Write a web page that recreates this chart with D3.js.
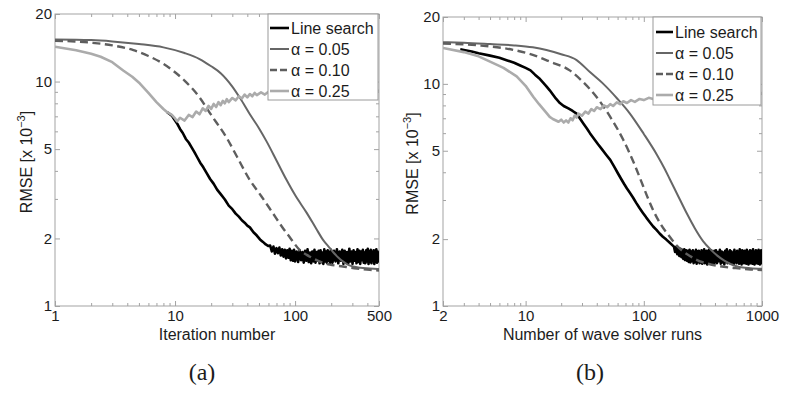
<!DOCTYPE html>
<html>
<head>
<meta charset="utf-8">
<script src="https://cdn.jsdelivr.net/npm/d3@7"></script>
<style>
  body { margin: 0; background: #fff; }
  svg { display: block; }
  text { font-family: "Liberation Sans", Arial, Helvetica, sans-serif; }
</style>
</head>
<body>
<svg id="chart" width="785" height="395"></svg>
<script>
// ---------- data ----------
const seriesNames = ["Line search", "α = 0.05", "α = 0.10", "α = 0.25"];
const yTickValues = [1, 2, 5, 10, 20];
const leftXTickValues = [1, 10, 100, 500];
const rightXTickValues = [2, 10, 100, 1000];
const leftXTitle = "Iteration number";
const rightXTitle = "Number of wave solver runs";
const panelCaptions = ["(a)", "(b)"];

// (a) RMSE [x 10^-3] against iteration number
const leftLineSearch = [
  [8.6,7.3],[9.4,7.05],[10,6.7],[10.5,6.45],[11,6.15],[11.6,5.9],[12.3,5.55],[13,5.35],[13.7,5.1],[14.5,4.85],
  [15.3,4.6],[16.2,4.35],[17.2,4.15],[18.4,3.9],[19.6,3.68],[21,3.5],[22.4,3.3],[24,3.15],[26,2.98],[28,2.8],
  [30,2.7],[32,2.58],[34,2.5],[36,2.41],[38,2.35],[40,2.28],[42,2.24],[45,2.13],[48,2.06],[51,1.98],
  [54,1.93],[57,1.88],[60,1.85],
  [62,1.86],[64,1.75],[66,1.84],[68,1.71],[70,1.81],[72,1.72],[74,1.82],[76,1.68],[78,1.79],[80,1.66],
  [82,1.78],[84,1.63],[86,1.77],[88,1.64],[90,1.80],[92,1.60],[94,1.76],[96,1.59],[98,1.78],[100,1.58],
  [103,1.75],[106,1.57],[109,1.77],[112,1.60],[115,1.74],[118,1.56],[121,1.76],[124,1.59],[127,1.79],[130,1.57],
  [133,1.73],[136,1.55],[139,1.75],[142,1.58],[145,1.78],[148,1.56],[151,1.74],[154,1.59],[157,1.76],[160,1.55],
  [163,1.77],[166,1.57],[169,1.73],[172,1.54],[175,1.79],[178,1.58],[181,1.75],[184,1.56],[187,1.77],[190,1.59],
  [193,1.74],[196,1.55],[199,1.78],
  [205,1.56],[211,1.76],[217,1.58],[223,1.79],[229,1.55],[235,1.75],[241,1.59],[247,1.78],[253,1.54],[259,1.76],
  [265,1.57],[271,1.74],[277,1.55],[283,1.80],[289,1.58],[295,1.75],[301,1.54],[307,1.77],[313,1.59],[319,1.74],
  [325,1.55],[331,1.79],[337,1.57],[343,1.76],[349,1.54],[355,1.75],[361,1.60],[367,1.78],[373,1.56],[379,1.73],
  [385,1.55],[391,1.77],[397,1.58],[403,1.80],[409,1.54],[415,1.75],[421,1.57],[427,1.78],[433,1.55],[439,1.74],
  [445,1.59],[451,1.77],[457,1.54],[463,1.76],[469,1.57],[475,1.79],[481,1.56],[487,1.75],[493,1.58],[499,1.73]
];
const leftAlpha005 = [
  [1,15.4],[2,15.3],[3,15.1],[5,14.7],[8,14.2],[12,13.4],[16,12.6],[20,11.7],[24,10.9],[30,9.5],
  [35,8.4],[42,7.15],[50,6.2],[58,5.4],[70,4.45],[85,3.64],[100,3.12],[125,2.6],[150,2.21],[171,1.97],
  [190,1.84],[207,1.74],[230,1.64],[250,1.58],[275,1.53],[304,1.50],[350,1.48],[420,1.47],[500,1.46]
];
const leftAlpha010 = [
  [1,15.2],[2,14.9],[3,14.5],[4.5,13.8],[6,13.0],[8,12.0],[9.6,11.2],[12,10.1],[16,8.5],[20,7.1],
  [27,5.6],[33,4.6],[42,3.64],[52,3.1],[65,2.6],[78,2.25],[90,2.03],[110,1.77],[125,1.69],[141,1.63],
  [165,1.57],[195,1.53],[250,1.50],[327,1.47],[420,1.45],[500,1.44]
];
const leftAlpha025 = [
  [1,14.3],[1.5,13.8],[2,13.3],[2.4,12.9],[3,12.2],[3.7,11.2],[4.4,10.5],[5.1,9.8],[6,8.9],[7,8.1],
  [8,7.55],[8.6,7.3],[9.4,7.1],[10,6.85],[10.4,6.65],[11,6.9],[12,6.7],[13,7.1],[14,6.95],[15,7.35],
  [16,7.15],[17,7.6],[18,7.4],[19,7.8],[20,7.55],[21,7.95],[22,7.7],[23,8.1],[24,7.85],[25,8.2],
  [26,8.0],[27,8.35],[28,8.1],[30,8.45],[32,8.25],[34,8.6],[36,8.4],[38,8.75],[40,8.5],[42,8.8],
  [44,8.6],[46,8.9],[48,8.7],[52,8.95],[56,8.75],[60,9.0],[65,8.8],[70,9.05],[80,8.9],[90,9.1],
  [110,8.95],[140,9.1],[180,9.0],[240,9.15],[320,9.05],[400,9.15],[500,9.1]
];

// (b) RMSE [x 10^-3] against number of wave solver runs
const rightLineSearch = [
  [2.8,14.3],[3,14.2],[3.5,14.0],[4,13.75],[5,13.4],[6,13.1],[7,12.75],[8,12.45],[9,12.1],[10,11.8],
  [11,11.5],[12,11.0],[13,10.6],[14,10.15],[15,9.75],[16,9.35],[17,8.95],[18,8.6],[19.5,8.2],[21,7.95],
  [23,7.75],[25,7.55],[27,7.35],[29,6.95],[31,6.6],[33,6.3],[35,6.0],[38,5.65],[41,5.35],[44,5.1],
  [48,4.8],[52,4.55],[56,4.25],[60,3.98],[64,3.75],[68,3.55],[72,3.38],[76,3.24],[81,3.08],[86,2.92],
  [92,2.76],[98,2.63],[105,2.5],[112,2.39],[120,2.28],[128,2.2],[136,2.12],[145,2.05],[155,1.99],[165,1.93],
  [176,1.87],
  [180,1.85],[184,1.75],[188,1.84],[192,1.71],[196,1.82],[200,1.68],[204,1.81],[208,1.66],[212,1.79],[216,1.63],
  [220,1.80],[224,1.61],[228,1.78],[232,1.60],[236,1.77],[240,1.58],[244,1.79],[248,1.57],[252,1.76],[256,1.59],
  [260,1.78],[264,1.56],[268,1.75],[272,1.58],[276,1.79],[280,1.55],[284,1.76],[288,1.59],[292,1.77],[296,1.56],
  [300,1.74],[304,1.57],[308,1.78],[312,1.55],[316,1.76],[320,1.58],[324,1.80],[328,1.56],[332,1.75],[336,1.59],
  [340,1.77],[344,1.54],[348,1.76],[352,1.57],[356,1.79],[360,1.55],[364,1.74],[368,1.58],[372,1.78],[376,1.56],
  [380,1.76],[384,1.59],[388,1.75],[392,1.54],[396,1.77],[400,1.57],
  [408,1.78],[416,1.56],[424,1.75],[432,1.59],[440,1.79],[448,1.55],[456,1.76],[464,1.57],[472,1.74],[480,1.54],
  [488,1.77],[496,1.58],[504,1.80],[512,1.56],[520,1.75],[528,1.59],[536,1.78],[544,1.55],[552,1.76],[560,1.57],
  [568,1.73],[576,1.54],[584,1.79],[592,1.58],[600,1.75],[608,1.56],[616,1.77],[624,1.59],[632,1.74],[640,1.55],
  [648,1.80],[656,1.57],[664,1.76],[672,1.54],[680,1.78],[688,1.58],[696,1.75],[704,1.56],[712,1.77],[720,1.59],
  [728,1.74],[736,1.55],[744,1.79],[752,1.57],[760,1.76],[768,1.54],[776,1.75],[784,1.58],[792,1.78],[800,1.56],
  [808,1.77],[816,1.59],[824,1.74],[832,1.55],[840,1.80],[848,1.57],[856,1.76],[864,1.54],[872,1.75],[880,1.58],
  [888,1.78],[896,1.56],[904,1.77],[912,1.59],[920,1.74],[928,1.55],[936,1.79],[944,1.57],[952,1.76],[960,1.54],
  [968,1.75],[976,1.58],[984,1.78],[992,1.56],[1000,1.76]
];
const rightAlpha005 = [
  [2,15.4],[3,15.3],[5,15.1],[8,14.9],[11.5,14.6],[15,14.2],[20,13.6],[27,12.8],[35,11.3],[45,10.05],
  [60,8.55],[76,7.37],[100,5.95],[129,4.8],[150,4.15],[166,3.72],[190,3.22],[232,2.6],[270,2.24],[317,1.96],
  [370,1.79],[416,1.69],[480,1.60],[536,1.55],[610,1.51],[690,1.49],[800,1.48],[1000,1.47]
];
const rightAlpha010 = [
  [2,15.2],[4,14.9],[8,14.2],[11.5,13.5],[16,12.6],[23.6,11.5],[30,10.3],[40,8.7],[52,7.1],[67,5.6],
  [84,4.3],[99,3.45],[110,3.0],[120,2.7],[140,2.32],[167,2.04],[190,1.87],[215,1.76],[250,1.67],[282,1.61],
  [350,1.55],[441,1.51],[600,1.48],[800,1.46],[1000,1.45]
];
const rightAlpha025 = [
  [2,14.5],[3,13.9],[4,13.3],[5,12.6],[6.5,11.8],[8.4,10.8],[10,9.8],[11.6,8.75],[13,8.1],[15,7.4],
  [16,7.1],[17,6.95],[19,6.75],[20,6.9],[21,6.7],[22,6.85],[23,6.7],[24,7.0],[25,6.85],[26,7.2],
  [27,7.05],[28,7.35],[30,7.2],[32,7.5],[34,7.35],[36,7.7],[38,7.55],[40,7.85],[43,7.7],[46,8.0],
  [49,7.85],[52,8.1],[55,7.95],[59,8.25],[63,8.1],[67,8.35],[72,8.2],[78,8.45],[84,8.3],[92,8.55],
  [100,8.45],[110,8.65],[120,8.55],[135,8.75],[160,8.7],[200,8.85],[260,8.8],[350,8.95],[470,8.9],[600,9.05],
  [800,9.0],[1000,9.1]
];

// ---------- drawing ----------
const svg = d3.select("#chart");

const lineStyles = [
  { color: "#000000", width: 2.6, dash: null,    curve: d3.curveLinear },
  { color: "#666666", width: 2.0, dash: null,    curve: d3.curveMonotoneX },
  { color: "#5e5e5e", width: 2.4, dash: "8,4.5", curve: d3.curveMonotoneX },
  { color: "#ababab", width: 2.6, dash: null,    curve: d3.curveLinear }
];

const panels = [
  { id: "a", left: 55, right: 379, top: 14, bottom: 306, xDomain: [1, 500],
    xTicks: leftXTickValues, xTitle: leftXTitle, caption: panelCaptions[0], captionX: 202,
    yTitleX: 27,
    series: [leftLineSearch, leftAlpha005, leftAlpha010, leftAlpha025],
    legend: { x: 268, y: 14, w: 110, h: 86, lineX0: 270, lineX1: 289, textX: 291, rows: [28, 49, 70, 91] } },
  { id: "b", left: 443, right: 762, top: 17, bottom: 306, xDomain: [2, 1000],
    xTicks: rightXTickValues, xTitle: rightXTitle, caption: panelCaptions[1], captionX: 590,
    yTitleX: 413,
    series: [rightLineSearch, rightAlpha005, rightAlpha010, rightAlpha025],
    legend: { x: 653, y: 17, w: 108, h: 88, lineX0: 656, lineX1: 673, textX: 675, rows: [32, 53, 74, 95] } }
];

const axisColor = "#a3a3a3";
const textColor = "#1c1c1c";

function logTicks(domain) {
  const out = [];
  const e0 = Math.floor(Math.log10(domain[0]));
  const e1 = Math.ceil(Math.log10(domain[1]));
  for (let e = e0; e <= e1; e++) {
    for (let k = 1; k <= 9; k++) {
      const v = k * Math.pow(10, e);
      if (v >= domain[0] - 1e-9 && v <= domain[1] + 1e-9) out.push(v);
    }
  }
  return out;
}

panels.forEach(p => {
  const x = d3.scaleLog().domain(p.xDomain).range([p.left, p.right]);
  const y = d3.scaleLog().domain([1, 20]).range([p.bottom, p.top]);
  const g = svg.append("g").attr("class", "panel-" + p.id);

  const clipId = "clip-" + p.id;
  svg.append("clipPath").attr("id", clipId)
    .append("rect").attr("x", p.left).attr("y", p.top)
    .attr("width", p.right - p.left).attr("height", p.bottom - p.top);

  const xMinor = logTicks(p.xDomain).filter(v => !p.xTicks.includes(v));
  const yMinor = logTicks([1, 20]).filter(v => !yTickValues.includes(v));
  const W = p.right - p.left, H = p.bottom - p.top;

  function styleAxis(sel) {
    sel.select(".domain").remove();
    sel.selectAll(".tick line").attr("stroke", axisColor).attr("stroke-width", 1);
    sel.selectAll(".tick text").attr("fill", textColor).style("font-size", "15px");
  }

  // bottom axis: labelled ticks and minor ticks, pointing inward
  g.append("g").attr("transform", `translate(0,${p.bottom})`)
    .call(d3.axisBottom(x).tickValues(p.xTicks).tickFormat(d3.format("d"))
      .tickSizeInner(-5).tickSizeOuter(0).tickPadding(4.5))
    .call(styleAxis);
  g.append("g").attr("transform", `translate(0,${p.bottom})`)
    .call(d3.axisBottom(x).tickValues(xMinor).tickFormat("").tickSizeInner(-3).tickSizeOuter(0))
    .call(styleAxis);
  // top axis mirrors the ticks
  g.append("g").attr("transform", `translate(0,${p.top})`)
    .call(d3.axisTop(x).tickValues(p.xTicks).tickFormat("").tickSizeInner(-5).tickSizeOuter(0))
    .call(styleAxis);
  g.append("g").attr("transform", `translate(0,${p.top})`)
    .call(d3.axisTop(x).tickValues(xMinor).tickFormat("").tickSizeInner(-3).tickSizeOuter(0))
    .call(styleAxis);

  // left axis with labels, right axis mirrored
  g.append("g").attr("transform", `translate(${p.left},0)`)
    .call(d3.axisLeft(y).tickValues(yTickValues).tickFormat(d3.format("d"))
      .tickSizeInner(-5).tickSizeOuter(0).tickPadding(3))
    .call(styleAxis);
  g.append("g").attr("transform", `translate(${p.left},0)`)
    .call(d3.axisLeft(y).tickValues(yMinor).tickFormat("").tickSizeInner(-3).tickSizeOuter(0))
    .call(styleAxis);
  g.append("g").attr("transform", `translate(${p.right},0)`)
    .call(d3.axisRight(y).tickValues(yTickValues).tickFormat("").tickSizeInner(-5).tickSizeOuter(0))
    .call(styleAxis);
  g.append("g").attr("transform", `translate(${p.right},0)`)
    .call(d3.axisRight(y).tickValues(yMinor).tickFormat("").tickSizeInner(-3).tickSizeOuter(0))
    .call(styleAxis);

  // plot box
  g.append("rect").attr("x", p.left).attr("y", p.top).attr("width", W).attr("height", H)
    .attr("fill", "none").attr("stroke", axisColor).attr("stroke-width", 1);

  // curves (line search first, the fixed-step curves drawn over it)
  const curves = g.append("g").attr("clip-path", `url(#${clipId})`);
  p.series.forEach((data, i) => {
    const st = lineStyles[i];
    const line = d3.line().x(d => x(d[0])).y(d => y(d[1])).curve(st.curve);
    curves.append("path").datum(data)
      .attr("d", line)
      .attr("fill", "none")
      .attr("stroke", st.color)
      .attr("stroke-width", st.width)
      .attr("stroke-linejoin", "round")
      .attr("stroke-dasharray", st.dash);
  });

  // axis titles
  g.append("text").attr("x", (p.left + p.right) / 2).attr("y", 339.5)
    .attr("text-anchor", "middle").attr("fill", textColor).style("font-size", "16px")
    .text(p.xTitle);

  const yMid = (p.top + p.bottom) / 2 + 2;
  const yt = g.append("text")
    .attr("transform", `translate(${p.yTitleX + 5},${yMid}) rotate(-90)`)
    .attr("text-anchor", "middle").attr("fill", textColor).style("font-size", "16px");
  yt.append("tspan").text("RMSE [x 10");
  yt.append("tspan").attr("dy", -7).style("font-size", "11px").text("−3");
  yt.append("tspan").attr("dy", 7).text("]");

  // caption
  g.append("text").attr("x", p.captionX).attr("y", 380)
    .attr("text-anchor", "middle").attr("fill", textColor)
    .style("font-family", "'Liberation Serif', 'Times New Roman', serif").style("font-size", "24px")
    .text(p.caption);

  // legend
  const L = p.legend;
  const lg = g.append("g");
  lg.append("rect").attr("x", L.x).attr("y", L.y).attr("width", L.w).attr("height", L.h)
    .attr("fill", "#fff").attr("stroke", "#9a9a9a").attr("stroke-width", 1);
  seriesNames.forEach((name, i) => {
    const st = lineStyles[i];
    lg.append("line").attr("x1", L.lineX0).attr("x2", L.lineX1)
      .attr("y1", L.rows[i]).attr("y2", L.rows[i])
      .attr("stroke", st.color).attr("stroke-width", st.width)
      .attr("stroke-dasharray", st.dash ? "7,3" : null);
    lg.append("text").attr("x", L.textX).attr("y", L.rows[i]).attr("dy", "0.35em")
      .attr("fill", textColor).style("font-size", "16px").text(name);
  });
});
</script>
</body>
</html>
